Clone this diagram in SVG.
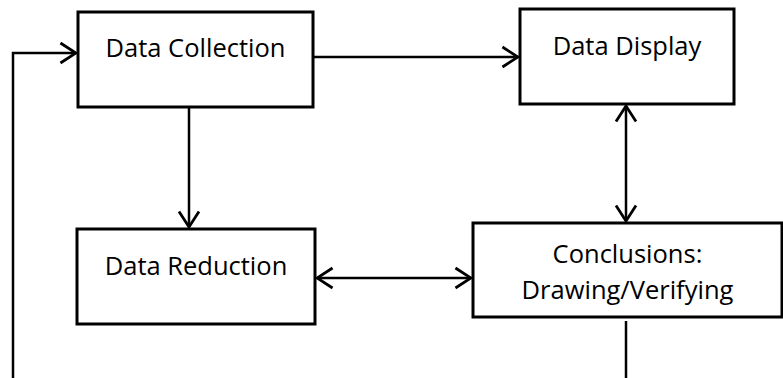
<svg xmlns="http://www.w3.org/2000/svg" width="783" height="378" viewBox="0 0 783 378">
<style>
.box{fill:#fff;stroke:#000;stroke-width:3}
.lbl{font-family:"Open Sans","Noto Sans","Liberation Sans",sans-serif;font-size:25.5px;fill:#000;text-anchor:middle}
.ln{fill:none;stroke:#000;stroke-width:2.5}
</style>
<defs>
<marker id="ah" markerUnits="userSpaceOnUse" markerWidth="20" markerHeight="24" viewBox="-16 -10 18 20" refX="0" refY="0" orient="auto-start-reverse">
<path d="M-14,-9 L0,0 L-14,9" fill="none" stroke="#000" stroke-width="2.5"/>
</marker>
</defs>
<rect width="783" height="378" fill="#fff"/>
<g id="connectors">
<path class="ln" d="M13,378 V53 H76" marker-end="url(#ah)"/>
<path class="ln" d="M313,57 H518" marker-end="url(#ah)"/>
<path class="ln" d="M189,107 V227" marker-end="url(#ah)"/>
<path class="ln" d="M626,106 V221" marker-start="url(#ah)" marker-end="url(#ah)"/>
<path class="ln" d="M317,278 H471" marker-start="url(#ah)" marker-end="url(#ah)"/>
<path class="ln" d="M626,321 V378"/>
</g>
<g id="data-collection">
<rect class="box" x="78" y="12" width="235" height="95"/>
<text class="lbl" x="195.5" y="57">Data Collection</text>
</g>
<g id="data-display">
<rect class="box" x="520" y="9" width="214" height="95"/>
<text class="lbl" x="627" y="55">Data Display</text>
</g>
<g id="data-reduction">
<rect class="box" x="77" y="229" width="238" height="95"/>
<text class="lbl" x="196" y="275">Data Reduction</text>
</g>
<g id="conclusions">
<rect class="box" x="473" y="223" width="309" height="94"/>
<text class="lbl" x="627.5" y="263">Conclusions:</text>
<text class="lbl" x="627.5" y="299">Drawing/Verifying</text>
</g>
</svg>
